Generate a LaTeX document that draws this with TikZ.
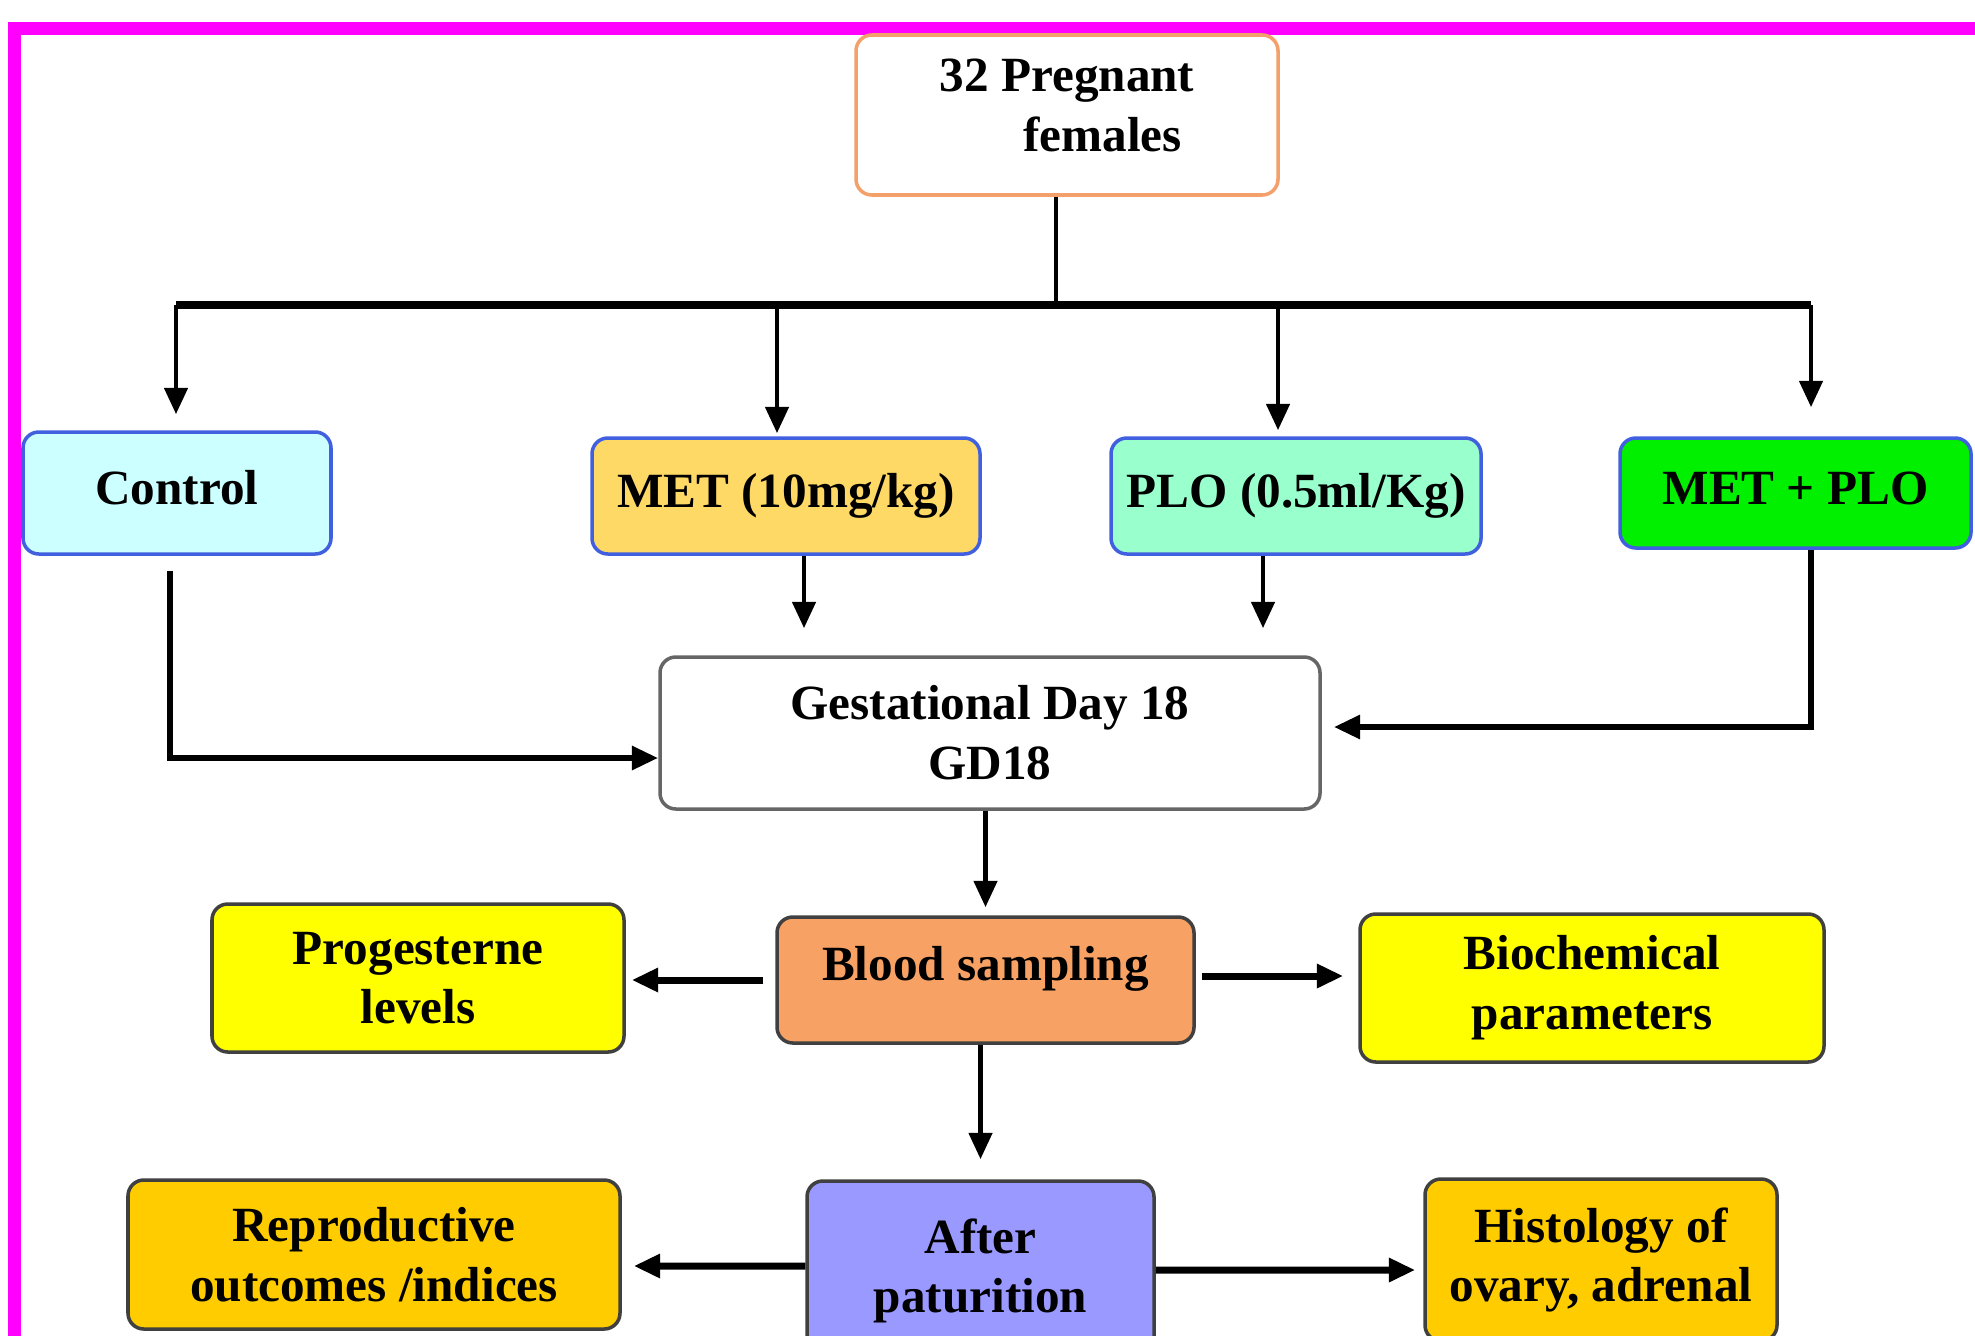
\documentclass[tikz,border=0pt]{standalone}
\usepackage{fontspec}
\setmainfont{Liberation Serif}
\usetikzlibrary{arrows.meta,calc}

\definecolor{framec}{RGB}{255,0,255}
\definecolor{ctrlc}{HTML}{CCFFFF}
\definecolor{metc}{HTML}{FFD966}
\definecolor{ploc}{HTML}{99FFCC}
\definecolor{mpc}{HTML}{00F000}
\definecolor{edgeblue}{HTML}{4060E0}
\definecolor{pregedge}{HTML}{F4A06A}
\definecolor{bloodc}{HTML}{F7A264}
\definecolor{yel}{HTML}{FFFF00}
\definecolor{goldc}{HTML}{FFCC00}
\definecolor{afterc}{HTML}{9999FF}

\begin{document}
\begin{tikzpicture}[box/.style={rectangle, rounded corners=4.5pt, draw=black!75, line width=1pt,
        align=center, font=\bfseries\fontsize{14}{17}\selectfont},
    grp/.style={box, draw=edgeblue, text height=0.36cm, text depth=0.14cm},
    >={Triangle[length=7.5pt,width=6.5pt]}, line width=1.4pt]

    \useasboundingbox (0,0) rectangle (19.75,13.35);
    \draw[framec, line width=0.13cm] (0.145,-1) |- (21,13.065);

    \node[box, draw=pregedge, minimum width=4.22cm, minimum height=1.6cm, align=left, text depth=0.2cm] (preg) at (10.67,12.20) {32 Pregnant\\\hspace*{1.7em}females};
    \node[grp, fill=ctrlc, minimum width=3.08cm, minimum height=1.22cm] (ctrl) at (1.77,8.42) {Control};
    \node[grp, fill=metc, minimum width=3.88cm, minimum height=1.16cm] (met) at (7.86,8.39) {MET (10mg/kg)};
    \node[grp, fill=ploc, minimum width=3.70cm, minimum height=1.16cm] (plo) at (12.96,8.39) {PLO (0.5ml/Kg)};
    \node[grp, fill=mpc, minimum width=3.51cm, minimum height=1.10cm] (metplo) at (17.955,8.42) {MET + PLO};
    \node[box, draw=black!60, minimum width=6.6cm, minimum height=1.52cm] (gd) at (9.90,6.02) {Gestational Day 18\\GD18};
    \node[box, fill=bloodc, minimum width=4.17cm, minimum height=1.26cm, text height=0.35cm, text depth=0.35cm] (blood) at (9.855,3.55) {Blood sampling};
    \node[box, fill=yel, minimum width=4.12cm, minimum height=1.48cm] (prog) at (4.18,3.57) {Progesterne\\levels};
    \node[box, fill=yel, minimum width=4.64cm, minimum height=1.48cm] (bio) at (15.92,3.47) {Biochemical\\parameters};
    \node[box, fill=afterc, minimum width=3.47cm, minimum height=1.8cm] (after) at (9.805,0.64) {After\\paturition};
    \node[box, fill=goldc, minimum width=4.92cm, minimum height=1.49cm] (repro) at (3.74,0.805) {Reproductive\\outcomes /indices};
    \node[box, fill=goldc, minimum width=3.52cm, minimum height=1.62cm] (hist) at (16.01,0.75) {Histology of\\ovary, adrenal};

    % split into the four groups
    \coordinate (bus) at (10.56,10.30);
    \coordinate (busL) at (1.76,10.30);
    \coordinate (dMet) at (7.77,10.30);
    \coordinate (dPlo) at (12.78,10.30);
    \coordinate (busR) at (18.11,10.30);
    \draw (preg.south -| bus) -- (bus);
    \draw[line width=2.2pt] (busL) -- (busR);
    \draw[->, shorten >=0.16cm] (busL) -- (busL |- ctrl.north);
    \draw[->, shorten >=0.03cm] (dMet) -- (dMet |- met.north);
    \draw[->, shorten >=0.06cm] (dPlo) -- (dPlo |- plo.north);
    \draw[->, shorten >=0.29cm] (busR) -- (busR |- metplo.north);

    % groups to GD18
    \draw[->, shorten >=0.27cm] ([xshift=0.18cm]met.south) -- ([xshift=0.18cm]met.south |- gd.north);
    \draw[->, shorten >=0.27cm] ([xshift=-0.33cm]plo.south) -- ([xshift=-0.33cm]plo.south |- gd.north);
    \draw[->, line width=1.8pt] ([xshift=-0.07cm,yshift=-0.15cm]ctrl.south) |- ([yshift=-0.25cm]gd.west);
    \draw[->, line width=1.8pt] ([xshift=0.155cm]metplo.south) |- ([xshift=0.12cm,yshift=0.06cm]gd.east);

    % sampling and outcomes
    \draw[->] (gd.south -| blood.north) -- ([yshift=0.08cm]blood.north);
    \draw[->, line width=2pt] ([xshift=-0.12cm]blood.west) -- ([xshift=0.06cm]prog.east |- blood.west);
    \draw[->, line width=2pt] ([xshift=0.06cm,yshift=0.04cm]blood.east) -- ([xshift=-0.15cm,yshift=0.12cm]bio.west);
    \draw[->] (blood.south -| after.north) -- ([yshift=0.2cm]after.north);
    \draw[->, line width=2pt] ([yshift=0.05cm]after.west) -- ([xshift=0.12cm,yshift=-0.115cm]repro.east);
    \draw[->, line width=2pt] ([yshift=0.01cm]after.east) -- ([xshift=-0.08cm,yshift=-0.10cm]hist.west);
\end{tikzpicture}
\end{document}
